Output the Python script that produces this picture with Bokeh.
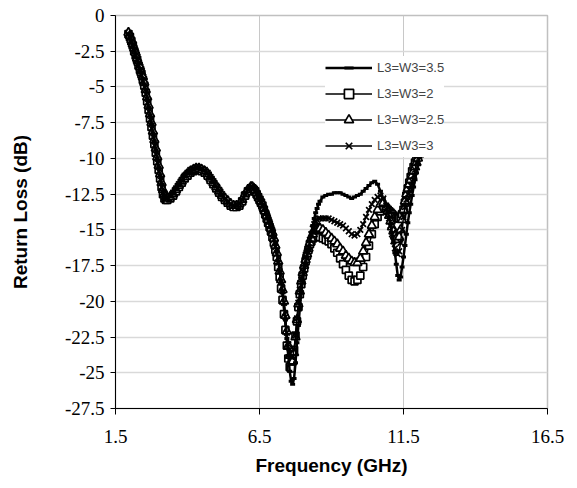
from bokeh.plotting import figure
from bokeh.models import Range1d, FixedTicker, Legend, LegendItem, ColumnDataSource
from bokeh.embed import file_html
from bokeh.resources import INLINE

# Frequency sample points (GHz)
freq = [1.95, 2.00, 2.05, 2.10, 2.15, 2.20, 2.25, 2.30, 2.35, 2.40, 2.45, 2.50, 2.55, 2.60,
        2.65, 2.70, 2.75, 2.80, 2.85, 2.90, 2.95, 3.00, 3.05, 3.10, 3.15, 3.20, 3.25, 3.30,
        3.4, 3.5, 3.6, 3.7, 3.8, 3.9, 4.0, 4.1, 4.2, 4.3, 4.4, 4.5, 4.6, 4.7, 4.8, 4.9, 5.0,
        5.1, 5.2, 5.3, 5.4, 5.5, 5.6, 5.7, 5.8, 5.9, 6.0, 6.1, 6.2,
        6.25, 6.30, 6.35, 6.40, 6.45, 6.50, 6.55, 6.60, 6.65, 6.70, 6.75, 6.80, 6.85, 6.90,
        6.95, 7.00, 7.05, 7.10, 7.15, 7.20, 7.25, 7.30, 7.35, 7.40, 7.45, 7.50, 7.55, 7.60,
        7.65, 7.70, 7.75, 7.80, 7.85, 7.90, 7.95, 8.00, 8.05, 8.10, 8.15, 8.20, 8.25, 8.30,
        8.35, 8.40, 8.45, 8.50, 8.55, 8.60,
        8.7, 8.8, 8.9, 9.0, 9.1, 9.2, 9.3, 9.4, 9.5, 9.6, 9.7, 9.8, 9.9, 10.0, 10.1, 10.2,
        10.3, 10.4, 10.5, 10.6, 10.7, 10.8, 10.9,
        10.95, 11.00, 11.05, 11.10, 11.15, 11.20, 11.25, 11.30, 11.35, 11.40, 11.45, 11.50,
        11.55, 11.60, 11.65, 11.70, 11.75, 11.80, 11.85, 11.90, 11.95, 12.00, 12.05]

# Return loss (dB), L3=W3=3.5
rl_35 = [-1.3, -1.5, -1.8, -2.1, -2.4, -2.7, -3.0, -3.4, -3.7, -4.0, -4.4, -4.8, -5.2, -5.8,
         -6.4, -7.0, -7.6, -8.2, -8.8, -9.4, -10.0, -10.6, -11.2, -11.8, -12.3, -12.6, -12.8, -12.8,
         -12.7, -12.5, -12.2, -11.9, -11.6, -11.3, -11.1, -10.9, -10.8, -10.7, -10.7, -10.8, -10.9,
         -11.1, -11.4, -11.7, -12.0, -12.3, -12.6, -12.8, -13.0, -13.2, -13.3, -13.3, -13.2, -12.9,
         -12.5, -12.2, -12.0,
         -12.0, -12.1, -12.2, -12.4, -12.6, -12.8, -13.0, -13.2, -13.4, -13.6, -13.9, -14.2, -14.5,
         -14.8, -15.1, -15.5, -16.0, -16.5, -17.2, -17.9, -18.6, -19.3, -20.2, -21.3, -22.6, -23.8,
         -24.9, -25.6, -25.8, -25.4, -24.3, -22.9, -21.7, -20.5, -19.4, -18.6, -18.0, -17.4, -16.9,
         -16.4, -15.8, -15.2, -14.7, -14.2, -13.8, -13.5, -13.2, -13.0,
         -12.7, -12.6, -12.5, -12.5, -12.4, -12.4, -12.4, -12.5, -12.6, -12.7, -12.8, -12.7, -12.6,
         -12.5, -12.3, -12.1, -11.9, -11.7, -11.6, -11.8, -12.3, -12.8, -13.3,
         -13.7, -14.1, -14.6, -15.2, -15.9, -16.6, -17.4, -18.2, -18.5, -18.3, -17.6, -16.9, -16.1,
         -15.3, -14.5, -13.8, -13.2, -12.6, -12.0, -11.5, -11.0, -10.4, -9.9]

# Return loss (dB), L3=W3=2
rl_2 = [-1.3, -1.5, -1.8, -2.1, -2.5, -2.8, -3.1, -3.5, -3.8, -4.1, -4.5, -4.9, -5.4, -6.0,
        -6.6, -7.2, -7.8, -8.4, -9.0, -9.6, -10.2, -10.8, -11.4, -12.0, -12.5, -12.8, -12.9, -12.9,
        -12.8, -12.6, -12.3, -12.0, -11.7, -11.4, -11.2, -11.0, -10.9, -10.8, -10.8, -10.9, -11.0,
        -11.2, -11.5, -11.8, -12.1, -12.4, -12.7, -12.9, -13.1, -13.3, -13.4, -13.4, -13.3, -13.0,
        -12.6, -12.3, -12.1,
        -12.1, -12.2, -12.3, -12.5, -12.7, -12.9, -13.1, -13.3, -13.6, -13.9, -14.2, -14.5, -14.8,
        -15.1, -15.5, -15.9, -16.4, -16.9, -17.6, -18.3, -19.1, -19.9, -20.9, -22.0, -23.1, -24.0,
        -24.6, -24.7, -24.2, -23.4, -22.4, -21.4, -20.4, -19.5, -18.8, -18.2, -17.7, -17.2, -16.8,
        -16.4, -16.0, -15.8, -15.6, -15.5, -15.5, -15.5, -15.5, -15.5,
        -15.6, -15.7, -15.8, -16.0, -16.3, -16.6, -17.0, -17.4, -17.8, -18.2, -18.5, -18.6, -18.5,
        -18.2, -17.6, -16.9, -16.1, -15.3, -14.6, -14.1, -13.7, -13.5, -13.5,
        -13.6, -13.7, -13.8, -13.9, -14.0, -14.1, -14.2, -14.2, -14.2, -14.1, -13.9, -13.6, -13.1,
        -12.6, -12.1, -11.7, -11.3, -10.9, -10.6, -10.3, -10.0, -9.8, -9.5]

# Return loss (dB), L3=W3=2.5
rl_25 = [-1.2, -1.4, -1.7, -2.0, -2.3, -2.6, -3.0, -3.3, -3.6, -4.0, -4.3, -4.7, -5.2, -5.7,
         -6.3, -6.9, -7.5, -8.1, -8.7, -9.3, -9.9, -10.5, -11.1, -11.7, -12.2, -12.5, -12.7, -12.8,
         -12.7, -12.5, -12.2, -11.9, -11.6, -11.3, -11.1, -10.9, -10.8, -10.7, -10.7, -10.8, -10.9,
         -11.1, -11.4, -11.7, -12.0, -12.3, -12.6, -12.8, -13.0, -13.2, -13.3, -13.3, -13.2, -12.9,
         -12.5, -12.2, -12.0,
         -12.0, -12.1, -12.2, -12.4, -12.6, -12.8, -13.0, -13.2, -13.5, -13.7, -14.0, -14.3, -14.6,
         -14.9, -15.2, -15.6, -16.1, -16.6, -17.2, -17.9, -18.5, -19.2, -20.0, -21.0, -22.1, -23.1,
         -23.8, -24.2, -24.2, -23.6, -22.5, -21.3, -20.2, -19.3, -18.6, -18.0, -17.5, -17.1, -16.7,
         -16.3, -15.9, -15.6, -15.3, -15.1, -15.0, -14.9, -14.9, -14.9,
         -15.0, -15.2, -15.4, -15.6, -15.8, -16.0, -16.3, -16.5, -16.8, -17.0, -17.2, -17.3, -17.3,
         -17.0, -16.5, -15.9, -15.3, -14.7, -14.1, -13.6, -13.2, -13.1, -13.4,
         -13.7, -14.0, -14.4, -14.8, -15.1, -15.4, -15.6, -15.7, -15.5, -15.0, -14.3, -13.6, -13.0,
         -12.5, -12.1, -11.8, -11.5, -11.2, -10.9, -10.6, -10.3, -10.0, -9.7]

# Return loss (dB), L3=W3=3
rl_3 = [-1.3, -1.5, -1.8, -2.1, -2.4, -2.8, -3.1, -3.5, -3.8, -4.2, -4.6, -5.0, -5.5, -6.1,
        -6.7, -7.3, -7.9, -8.5, -9.1, -9.7, -10.3, -10.9, -11.5, -12.0, -12.4, -12.7, -12.8, -12.8,
        -12.6, -12.4, -12.1, -11.8, -11.5, -11.2, -11.0, -10.8, -10.7, -10.6, -10.6, -10.7, -10.8,
        -11.0, -11.3, -11.6, -11.9, -12.2, -12.5, -12.8, -13.0, -13.2, -13.3, -13.3, -13.2, -12.9,
        -12.5, -12.2, -12.0,
        -12.0, -12.1, -12.3, -12.5, -12.7, -12.9, -13.1, -13.3, -13.5, -13.8, -14.1, -14.4, -14.7,
        -15.0, -15.3, -15.7, -16.2, -16.7, -17.3, -17.9, -18.6, -19.3, -20.1, -21.1, -22.2, -23.0,
        -23.6, -23.9, -23.9, -23.4, -22.4, -21.2, -20.1, -19.2, -18.5, -17.9, -17.4, -16.9, -16.5,
        -16.2, -15.7, -15.3, -14.9, -14.6, -14.4, -14.3, -14.2, -14.2,
        -14.2, -14.2, -14.2, -14.3, -14.4, -14.5, -14.6, -14.7, -14.9, -15.1, -15.3, -15.4, -15.3,
        -15.0, -14.6, -14.1, -13.6, -13.2, -12.9, -12.7, -12.6, -12.8, -13.3,
        -13.7, -14.2, -14.7, -15.3, -15.8, -16.3, -16.6, -16.7, -16.5, -15.9, -15.0, -14.1, -13.4,
        -12.9, -12.5, -12.2, -11.9, -11.6, -11.2, -10.8, -10.3, -9.8, -9.3]

x_ticks = [1.5, 6.5, 11.5, 16.5]
y_ticks = [-27.5, -25, -22.5, -20, -17.5, -15, -12.5, -10, -7.5, -5, -2.5, 0]
y_tick_labels = ["-27.5", "-25", "-22.5", "-20", "-17.5", "-15", "-12.5", "-10", "-7.5", "-5", "-2.5", "0"]
series_labels = ["L3=W3=3.5", "L3=W3=2", "L3=W3=2.5", "L3=W3=3"]

p = figure(width=577, height=488, output_backend="svg", toolbar_location=None,
           x_range=Range1d(1.5, 16.5), y_range=Range1d(-27.5, 0),
           min_border_left=115, min_border_right=30, min_border_top=15, min_border_bottom=80)
p.background_fill_color = "white"
p.border_fill_color = "white"
p.outline_line_color = "#c0c0c0"
p.outline_line_width = 1.5

src = ColumnDataSource(dict(f=freq, a=rl_35, b=rl_2, c=rl_25, d=rl_3))

lb = p.line("f", "b", source=src, line_color="black", line_width=1.5)
sb = p.scatter("f", "b", source=src, marker="square", size=7, fill_color="white",
               line_color="black", line_width=1.7)
lc = p.line("f", "c", source=src, line_color="black", line_width=1.5)
sc = p.scatter("f", "c", source=src, marker="triangle", size=9, fill_color="white",
               line_color="black", line_width=1.7)
ld = p.line("f", "d", source=src, line_color="black", line_width=1.5)
sd = p.scatter("f", "d", source=src, marker="x", size=8, line_color="black", line_width=1.7)
la = p.line("f", "a", source=src, line_color="black", line_width=2.5)
sa = p.scatter("f", "a", source=src, marker="dash", size=5, line_color="black", line_width=3)

legend = Legend(items=[
    LegendItem(label=series_labels[0], renderers=[la, sa]),
    LegendItem(label=series_labels[1], renderers=[lb, sb]),
    LegendItem(label=series_labels[2], renderers=[lc, sc]),
    LegendItem(label=series_labels[3], renderers=[ld, sd]),
], location=(210, 251), margin=0, padding=4, spacing=3, glyph_width=47, glyph_height=23,
    label_standoff=5, label_text_font="Liberation Sans", label_text_font_size="13px",
    border_line_color=None, background_fill_color="white", background_fill_alpha=1.0)
p.add_layout(legend, "center")

for ax in (p.xaxis[0], p.yaxis[0]):
    ax.axis_line_color = "black"
    ax.axis_line_width = 1
    ax.major_tick_line_color = "black"
    ax.major_tick_in = 0
    ax.minor_tick_line_color = None
    ax.major_label_text_font = "Liberation Serif"
    ax.major_label_text_font_size = "19px"
    ax.major_label_text_color = "black"
    ax.axis_label_text_font = "Liberation Sans"
    ax.axis_label_text_font_style = "bold"
    ax.axis_label_text_font_size = "19px"
    ax.axis_label_text_color = "black"

p.xaxis.ticker = FixedTicker(ticks=x_ticks)
p.yaxis.ticker = FixedTicker(ticks=y_ticks)
p.yaxis.major_label_overrides = {t: s for t, s in zip(y_ticks, y_tick_labels)}
p.xaxis.axis_label = "Frequency (GHz)"
p.yaxis.axis_label = "Return Loss (dB)"
p.xaxis.major_tick_out = 6
p.yaxis.major_tick_out = 5
p.xaxis.major_label_standoff = 15
p.yaxis.major_label_standoff = 6
p.xaxis.axis_label_standoff = 9
p.yaxis.axis_label_standoff = 31

p.xgrid.grid_line_color = "#c8c8c8"
p.xgrid.grid_line_width = 1
p.ygrid.grid_line_color = "#d9d9d9"
p.ygrid.grid_line_width = 1.5

open("out.html", "w").write(file_html(p, INLINE))
